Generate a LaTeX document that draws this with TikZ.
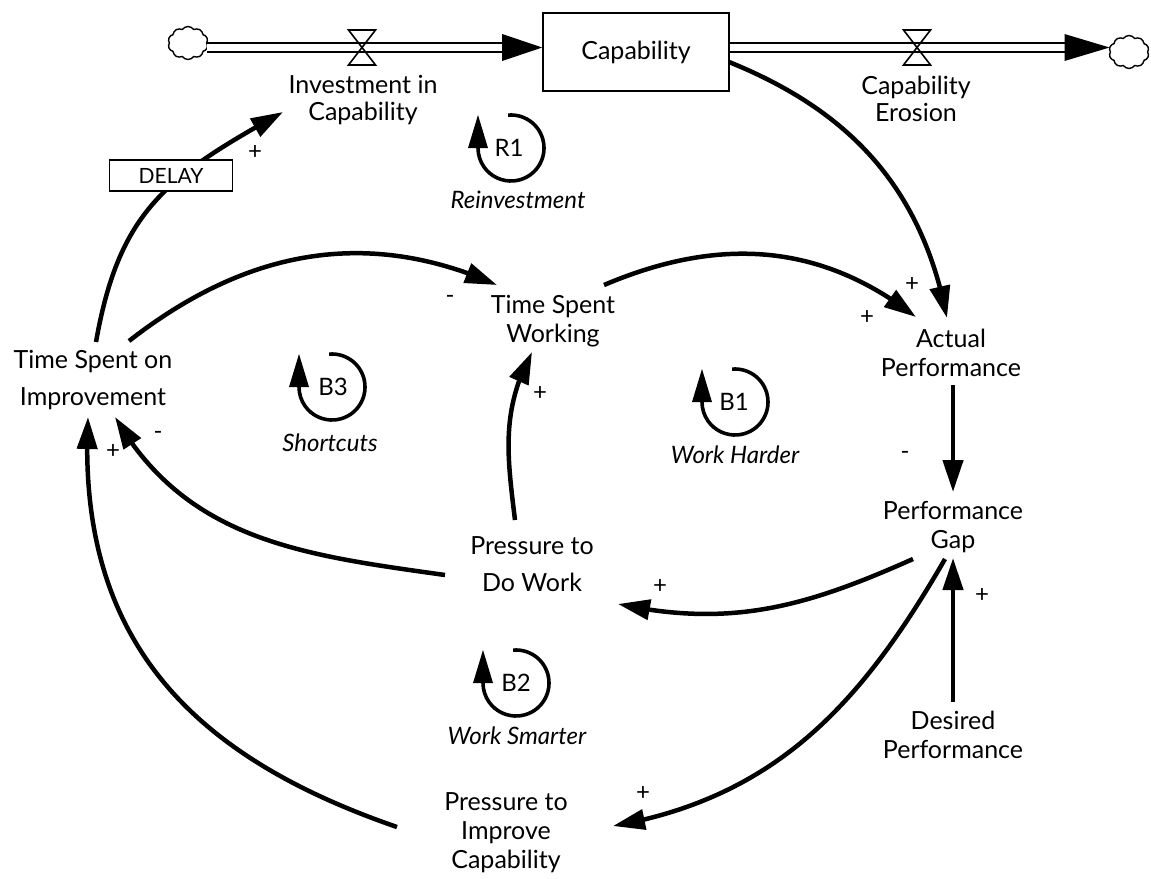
\documentclass[tikz,border=0pt]{standalone}
\usepackage{fontspec}
\setmainfont{Lato}
\usetikzlibrary{arrows.meta,bending,shapes.symbols,calc}

\tikzset{
  var/.style={align=center,inner sep=0pt,font=\fontsize{25}{29}\selectfont},
  flowlab/.style={align=center,inner sep=0pt,font=\fontsize{25}{26.5}\selectfont},
  link/.style={line width=4.5pt,-{Triangle[length=32pt,width=20pt]}},
  pol/.style={inner sep=0pt,font=\fontsize{24}{24}\selectfont},
  looplab/.style={inner sep=0pt,font=\fontsize{24}{24}\selectfont},
  loopname/.style={inner sep=0pt,font=\fontsize{24}{28}\selectfont\itshape},
  cloudy/.style={cloud,cloud puffs=10,cloud puff arc=110,aspect=1.2,draw,
    line width=1.4pt,minimum width=40pt,minimum height=33pt,inner sep=0pt},
  pipe/.style={draw=black,double=white,double distance=6.5pt,line width=1.8pt},
  loopicon/.pic={
    \draw[line width=3.6pt] (95:33) arc[start angle=95,end angle=-180,radius=33];
    \fill (-43,0) -- (-23,0) -- (-33,33) -- cycle;
  },
  valve/.pic={
    \draw[line width=1.6pt] (0,0) -- (-13.5,17.5) -- (13.5,17.5) -- cycle
                            (0,0) -- (-13.5,-17.5) -- (13.5,-17.5) -- cycle;
  }
}

\begin{document}
\begin{tikzpicture}[x=1pt,y=1pt]
\useasboundingbox[fill=white] (0,0) rectangle (1151,-878);

% stock and flows
\node[draw,line width=1.6pt,minimum width=186pt,minimum height=78pt,
      font=\fontsize{25}{29}\selectfont] (cap) at (636,-52) {Capability};
\coordinate (valveL) at (362,-47.5);
\coordinate (valveR) at (917,-47.5);
\node[cloudy] (cloudL) at (188,-43) {};
\node[cloudy] (cloudR) at (1129,-52) {};
\draw[pipe] (cloudL.east |- valveL) -- ($(valveL -| cap.west)+(-40,0)$);
\fill (valveL -| cap.west) -- ++(-40,13.5) -- ++(0,-27) -- cycle;
\draw[pipe] (valveR -| cap.east) -- ($(valveR -| cloudR.west)+(-45,0)$);
\fill (valveR -| cloudR.west) -- ++(-45,13.5) -- ++(0,-27) -- cycle;
\pic at (valveL) {valve};
\pic at (valveR) {valve};
\node[flowlab] (inv) at (363,-100) {Investment in\\Capability};
\node[flowlab] (ero) at (916,-99) {Capability\\Erosion};

% auxiliary variables
\node[var] (tsi) at (93,-380) {Time Spent on\\[8pt]Improvement};
\node[var] (tsw) at (553,-321) {Time Spent\\Working};
\node[var] (act) at (951,-353) {Actual\\Performance};
\node[var] (gap) at (953,-527) {Performance\\Gap};
\node[var] (pdw) at (532,-564) {Pressure to\\[8pt]Do Work};
\node[var] (pic) at (506,-833) {Pressure to\\Improve\\Capability};
\node[var] (des) at (953,-735) {Desired\\Performance};

% causal links
\draw[link] ([shift={(3,38)}]tsi.center) to[out=80,in=209,looseness=1.15]
            ([shift={(-80,-12)}]inv.center);
\node[draw,fill=white,line width=1.6pt,minimum width=123pt,minimum height=31pt,
      inner sep=0pt,font=\fontsize{21}{21}\selectfont] (delay) at (171,-175.5) {DELAY};
\draw[link] ([shift={(36,39)}]tsi.center) to[out=38,in=156]
            ([shift={(-56,36)}]tsw.center);
\draw[link] ([shift={(51,36)}]tsw.center) to[out=23,in=142]
            ([shift={(-35,36)}]act.center);
\draw[link] ([shift={(93,-10)}]cap.center) to[out=-22,in=101]
            ([shift={(-4,35)}]act.center);
\draw[link] ([shift={(2,-32)}]act.center) -- ([shift={(0,35)}]gap.center);
\draw[link] ([shift={(-40,-32)}]gap.center) to[out=204,in=-12]
            ([shift={(86,-40)}]pdw.center);
\draw[link] ([shift={(0,33)}]des.center) -- ([shift={(0,-31)}]gap.center);
\draw[link] ([shift={(-8,-32)}]gap.center) to[out=240,in=10]
            ([shift={(107,7)}]pic.center);
\draw[link] ([shift={(-17,44)}]pdw.center) to[out=97,in=242]
            ([shift={(-21,-31)}]tsw.center);
\draw[link] ([shift={(-87,-11)}]pdw.center) to[out=172,in=300]
            ([shift={(22,-37)}]tsi.center);
\draw[link] ([shift={(-109,6)}]pic.center) to[out=161,in=267,looseness=1.1]
            ([shift={(-5,-37)}]tsi.center);

% link polarities
\node[pol] (p1) at (255,-153) {+};
\node[pol] (p2) at (450,-299) {-};
\node[pol] (p3) at (867,-317) {+};
\node[pol] (p4) at (912,-285) {+};
\node[pol] (p5) at (905,-455) {-};
\node[pol] (p6) at (660,-586) {+};
\node[pol] (p7) at (982,-595) {+};
\node[pol] (p8) at (643,-793) {+};
\node[pol] (p9) at (540,-393) {+};
\node[pol] (p10) at (158,-435) {-};
\node[pol] (p11) at (113,-451) {+};

% loop identifiers
\node[looplab] (r1) at (509,-148) {R1};
\pic at (511,-148) {loopicon};
\node[loopname] (r1n) at (518,-200) {Reinvestment};
\node[looplab] (b3) at (333,-387) {B3};
\pic at (332,-387) {loopicon};
\node[loopname] (b3n) at (330,-443) {Shortcuts};
\node[looplab] (b1) at (734,-402) {B1};
\pic at (735,-402) {loopicon};
\node[loopname] (b1n) at (735,-455) {Work Harder};
\node[looplab] (b2) at (516,-683) {B2};
\pic at (516,-683) {loopicon};
\node[loopname] (b2n) at (517,-736) {Work Smarter};
\end{tikzpicture}
\end{document}
